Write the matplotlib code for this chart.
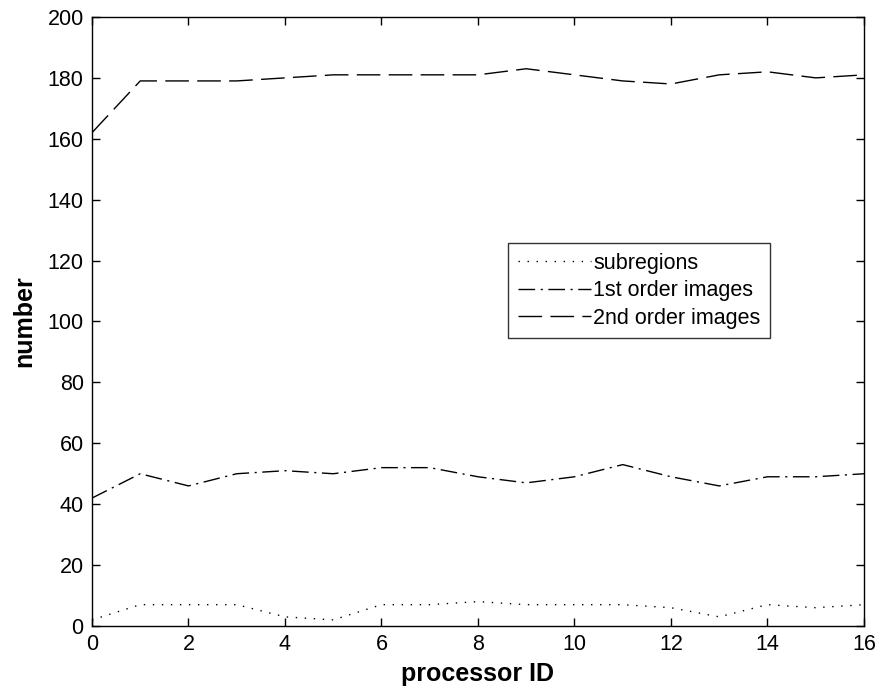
import matplotlib
matplotlib.use('Agg')
import matplotlib.pyplot as plt
import numpy as np

plt.rcParams['font.family'] = ['Liberation Sans', 'DejaVu Sans']
plt.rcParams['lines.scale_dashes'] = False

proc_id = np.arange(0, 17)
subregions = [2, 7, 7, 7, 3, 2, 7, 7, 8, 7, 7, 7, 6, 3, 7, 6, 7]
first_order = [42, 50, 46, 50, 51, 50, 52, 52, 49, 47, 49, 53, 49, 46, 49, 49, 50]
second_order = [162, 179, 179, 179, 180, 181, 181, 181, 181, 183, 181, 179, 178, 181, 182, 180, 181]

fig = plt.figure(figsize=(8.81, 6.96), dpi=100)
ax = fig.add_axes([0.1044, 0.1006, 0.8763, 0.875])

lw = 1.0
ax.plot(proc_id, subregions, color='black', lw=lw, dashes=(1, 5.5), label='subregions')
ax.plot(proc_id, first_order, color='black', lw=lw, dashes=(12, 4, 1.5, 4), label='1st order images')
ax.plot(proc_id, second_order, color='black', lw=lw, dashes=(17, 6), label='2nd order images')

ax.set_xlim(0, 16)
ax.set_ylim(0, 200)
ax.set_xticks(np.arange(0, 17, 2))
ax.set_yticks(np.arange(0, 201, 20))
ax.tick_params(direction='in', top=True, right=True, length=6, width=1, labelsize=15.5, pad=6)
for s in ax.spines.values():
    s.set_linewidth(1.0)

ax.set_xlabel('processor ID', fontsize=18, fontweight='bold', labelpad=5)
ax.set_ylabel('number', fontsize=18, fontweight='bold', labelpad=8)

leg = ax.legend(loc='upper left', bbox_to_anchor=(0.539, 0.629), fontsize=15.5,
                handlelength=3.4, handletextpad=0.1, frameon=True, fancybox=False,
                edgecolor='black', borderpad=0.45, labelspacing=0.3, borderaxespad=0)
leg.get_frame().set_linewidth(1.0)

fig.savefig('out.png', dpi=100)
